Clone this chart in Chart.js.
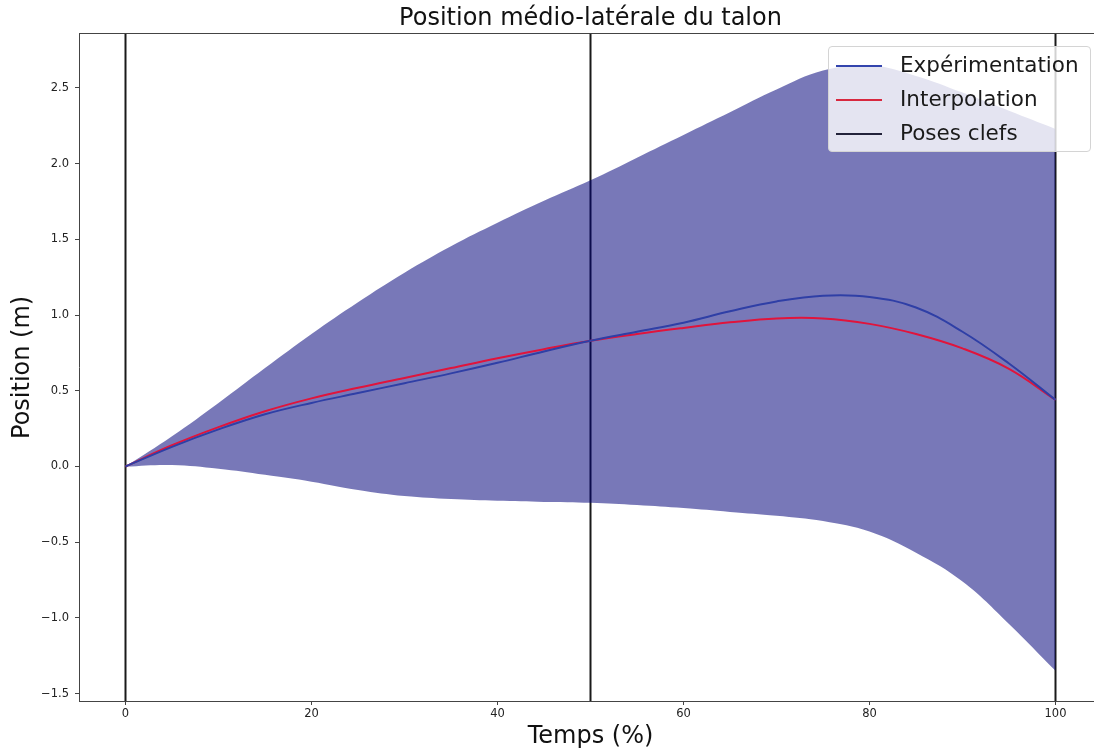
<!DOCTYPE html>
<html>
<head>
<meta charset="utf-8">
<script src="https://cdn.jsdelivr.net/npm/chart.js@4.4.1/dist/chart.umd.min.js"></script>
<style>
  html, body { margin: 0; padding: 0; background: #fff; overflow: hidden; }
  #wrap { position: relative; width: 1094px; height: 751px; overflow: hidden; }
  #myChart { position: absolute; left: 0; top: 0; }
  #legend {
    position: absolute; left: 828px; top: 46px; width: 261px; height: 104px;
    background: rgba(255,255,255,0.8); border: 1px solid #d4d4d4; border-radius: 4px;
    font-family: "DejaVu Sans", sans-serif; font-size: 21.5px; color: #1a1a1a;
  }
  .item { position: absolute; left: 7px; height: 34px; line-height: 34px; white-space: nowrap; }
  .item span.swatch { position: absolute; left: 0; top: 16px; width: 46px; height: 2px; }
  .item span.label { position: absolute; left: 64px; top: -1px; }
</style>
</head>
<body>
<div id="wrap">
  <canvas id="myChart" width="1110" height="751"></canvas>
  <div id="legend"></div>
</div>
<script>
// temps (%) and the curves
const temps = [0, 5, 10, 15, 20, 25, 30, 35, 40, 45, 50, 55, 60, 65, 70, 75, 80, 85, 90, 95, 100]
const experimentation = [0, 0.13, 0.245, 0.345, 0.42, 0.485, 0.55, 0.615, 0.685, 0.76, 0.83, 0.89, 0.95, 1.025, 1.09, 1.128, 1.12, 1.05, 0.89, 0.68, 0.44]
const interpolation = [0, 0.14, 0.26, 0.365, 0.45, 0.52, 0.585, 0.65, 0.715, 0.775, 0.83, 0.875, 0.915, 0.952, 0.978, 0.978, 0.942, 0.875, 0.78, 0.645, 0.44]
const bandUpper = [0, 0.20, 0.42, 0.65, 0.875, 1.085, 1.28, 1.455, 1.61, 1.755, 1.89, 2.04, 2.19, 2.34, 2.49, 2.615, 2.65, 2.58, 2.47, 2.35, 2.23]
const bandLower = [0, 0.01, -0.015, -0.055, -0.10, -0.155, -0.195, -0.215, -0.227, -0.234, -0.24, -0.255, -0.275, -0.30, -0.325, -0.36, -0.43, -0.57, -0.76, -1.04, -1.35]
const posesClefs = [0, 50, 100]
const xLimits = [-5, 105]
const yLimits = [-1.549, 2.858]
const xTicks = [0, 20, 40, 60, 80, 100]

const font = "DejaVu Sans"

function pts(values) {
  return temps.map((t, i) => ({x: t, y: values[i]}))
}

const datasets = [
  {
    label: "Expérimentation",
    data: pts(experimentation),
    borderColor: "#2f3fa6",
    borderWidth: 2,
    pointRadius: 0,
    tension: 0.4,
    order: 0
  },
  {
    label: "Interpolation",
    data: pts(interpolation),
    borderColor: "#e0143c",
    borderWidth: 2,
    pointRadius: 0,
    tension: 0.4,
    order: 0
  },
  {
    label: "upper",
    data: pts(bandUpper),
    borderWidth: 0,
    borderColor: "rgba(0,0,0,0)",
    backgroundColor: "rgba(0,0,120,0.53)",
    pointRadius: 0,
    tension: 0.4,
    fill: "+1",
    order: 1
  },
  {
    label: "lower",
    data: pts(bandLower),
    borderWidth: 0,
    borderColor: "rgba(0,0,0,0)",
    pointRadius: 0,
    tension: 0.4,
    fill: false,
    order: 1
  }
]

posesClefs.forEach(p => {
  datasets.push({
    label: "Poses clefs",
    data: [{x: p, y: yLimits[0]}, {x: p, y: yLimits[1]}],
    borderColor: "#1a1a1a",
    borderWidth: 2,
    pointRadius: 0,
    order: 2
  })
})

new Chart("myChart", {
  type: "line",
  data: {datasets: datasets},
  options: {
    responsive: false,
    animation: false,
    layout: {padding: {left: 0, right: 8, top: 0, bottom: 0}},
    plugins: {
      legend: {display: false},
      tooltip: {enabled: false},
      title: {
        display: true,
        text: "Position médio-latérale du talon",
        fullSize: false,
        color: "#111",
        font: {family: font, size: 24, weight: "normal"},
        padding: {top: 4, bottom: 1}
      }
    },
    scales: {
      x: {
        type: "linear",
        min: xLimits[0],
        max: xLimits[1],
        afterFit: s => { s.height = 50 },
        afterBuildTicks: s => { s.ticks = xTicks.map(v => ({value: v})) },
        border: {color: "#444", width: 1},
        grid: {drawOnChartArea: false, color: "#444", tickLength: 4},
        ticks: {color: "#222", padding: 2, font: {family: font, size: 11.5}},
        title: {
          display: true, text: "Temps (%)", color: "#111",
          font: {family: font, size: 24}, padding: {top: 1, bottom: 0}
        }
      },
      x2: {
        type: "linear",
        position: "top",
        min: xLimits[0],
        max: xLimits[1],
        afterFit: s => { s.height = 0 },
        border: {color: "#444", width: 1},
        grid: {drawOnChartArea: false, drawTicks: false},
        ticks: {display: false}
      },
      y: {
        type: "linear",
        min: yLimits[0],
        max: yLimits[1],
        afterFit: s => { s.width = 79 },
        border: {color: "#444", width: 1},
        grid: {drawOnChartArea: false, color: "#444", tickLength: 4},
        ticks: {
          stepSize: 0.5,
          includeBounds: false,
          color: "#222",
          padding: 6,
          font: {family: font, size: 11.5},
          callback: v => (v < 0 ? "\u2212" + Math.abs(v).toFixed(1) : v.toFixed(1))
        },
        title: {
          display: true, text: "Position (m)", color: "#111",
          font: {family: font, size: 24}, padding: {top: 8, bottom: 0}
        }
      }
    }
  }
})

// legend box, top right, like the matplotlib one
const legendItems = [
  {label: "Expérimentation", color: "#3344ad"},
  {label: "Interpolation", color: "#d8283f"},
  {label: "Poses clefs", color: "#22223a"}
]
let html = ""
legendItems.forEach((it, i) => {
  html += '<div class="item" style="top:' + (2 + i * 34) + 'px">' +
    '<span class="swatch" style="background:' + it.color + '"></span>' +
    '<span class="label">' + it.label + '</span></div>'
})
document.getElementById("legend").innerHTML = html
</script>
</body>
</html>
